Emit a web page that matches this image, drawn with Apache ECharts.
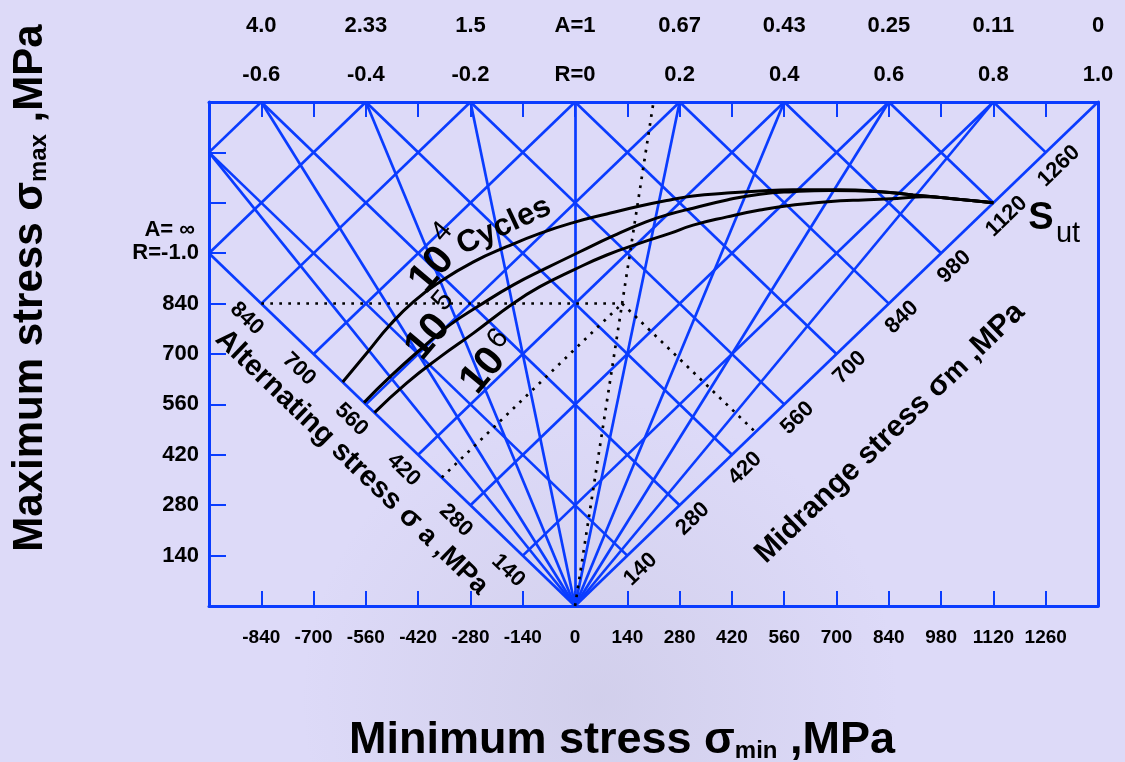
<!DOCTYPE html>
<html>
<head>
<meta charset="utf-8">
<title>Constant life diagram</title>
<script src="https://cdn.jsdelivr.net/npm/echarts@6/dist/echarts.min.js"></script>
<style>
  html, body { margin: 0; padding: 0; background: #dddaf8; }
  #chart { width: 1125px; height: 762px; }
</style>
</head>
<body>
<div id="chart"></div>
<script>
// axis ranges (MPa)
var xMin = -980
var xMax = 1400
var yMin = 0
var yMax = 1400

// frame ticks and labels
var xTickValues = [-840, -700, -560, -420, -280, -140, 0, 140, 280, 420, 560, 700, 840, 980, 1120, 1260]
var yTickValues = [140, 280, 420, 560, 700, 840, 980, 1120, 1260]
var yLabelValues = [140, 280, 420, 560, 700, 840, 980]
// top edge: sigma_min where the R lines reach sigma_max = 1400
var topValues = [-840, -560, -280, 0, 280, 560, 840, 1120, 1400]
var rLabels = ['-0.6', '-0.4', '-0.2', 'R=0', '0.2', '0.4', '0.6', '0.8', '1.0']
var aLabels = ['4.0', '2.33', '1.5', 'A=1', '0.67', '0.43', '0.25', '0.11', '0']

// diagonal scales
var alternatingTicks = [140, 280, 420, 560, 700, 840]
var midrangeTicks = [140, 280, 420, 560, 700, 840, 980, 1120, 1260]
var sigmaALines = [140, 280, 420, 560, 700, 840, 980, 1120]
var sigmaMLines = [140, 280, 420, 560, 700, 840, 980, 1120, 1260]
var radialEnds = [[-980, 980], [-980, 1260], [-840, 1400], [-560, 1400], [-280, 1400], [0, 1400],
  [280, 1400], [560, 1400], [840, 1400], [1120, 1400], [1400, 1400]]

// constant life curves, [sigma_min, sigma_max]
var cycles1e4 = [[-622, 622], [-558, 702], [-495, 781], [-433, 845], [-361, 901], [-272, 956], [-183, 998],
  [-94, 1035], [-5, 1065], [85, 1089], [174, 1111], [254, 1128], [316, 1139], [407, 1147], [495, 1153],
  [584, 1156], [710, 1156], [817, 1151], [905, 1142], [996, 1133], [1120, 1120]]
var cycles1e5 = [[-565, 565], [-495, 637], [-406, 720], [-335, 781], [-254, 836], [-165, 892], [-76, 939],
  [13, 984], [102, 1028], [190, 1067], [254, 1089], [316, 1105], [407, 1128], [495, 1144], [584, 1151],
  [683, 1154], [817, 1151], [905, 1142], [996, 1133], [1120, 1120]]
var cycles1e6 = [[-537, 537], [-451, 619], [-361, 692], [-272, 758], [-165, 841], [-94, 887], [-5, 933],
  [85, 975], [174, 1008], [254, 1035], [316, 1058], [407, 1081], [495, 1100], [584, 1114], [710, 1126],
  [771, 1128], [862, 1132], [932, 1137], [1031, 1129], [1120, 1120]]

// dotted construction lines for the example point
var dottedSegments = [
  [[-840, 840], [126, 840]],
  [[0, 0], [210, 1400]],
  [[-357, 357], [126, 840]],
  [[126, 840], [483, 483]]
]

var BLUE = '#0a3cff'
var FONT = '"Liberation Sans", Arial, Helvetica, sans-serif'

var gridSegments = []
sigmaALines.forEach(function (a) {
  var start = a <= -xMin ? [-a, a] : [xMin, xMin + 2 * a]
  gridSegments.push({ coords: [start, [yMax - 2 * a, yMax]] })
})
sigmaMLines.forEach(function (m) {
  var topMin = 2 * m - yMax
  var end = topMin >= xMin ? [topMin, yMax] : [xMin, 2 * m - xMin]
  gridSegments.push({ coords: [[m, m], end] })
})
radialEnds.forEach(function (p) {
  gridSegments.push({ coords: [[0, 0], p] })
})

var labelStyle = { color: '#000', fontWeight: 'bold', fontFamily: FONT }

var chartDom = document.getElementById('chart')
var myChart = echarts.init(chartDom)
var option = {
  animation: false,
  backgroundColor: '#dddaf8',
  grid: { left: 209, right: 27, top: 102, bottom: 156, outerBoundsMode: 'none' },
  xAxis: [
    {
      type: 'value', position: 'bottom', min: xMin, max: xMax,
      splitLine: { show: false },
      axisLine: { show: true, onZero: false, lineStyle: { color: BLUE, width: 3 } },
      axisTick: { show: true, inside: true, length: 15, customValues: xTickValues, lineStyle: { color: BLUE, width: 2 } },
      axisLabel: Object.assign({
        customValues: xTickValues, margin: 22, fontSize: 19,
        formatter: function (v) { return String(v) }
      }, labelStyle)
    },
    {
      type: 'value', position: 'top', min: xMin, max: xMax,
      splitLine: { show: false },
      axisLine: { show: true, onZero: false, lineStyle: { color: BLUE, width: 3 } },
      axisTick: { show: true, inside: true, length: 15, customValues: xTickValues, lineStyle: { color: BLUE, width: 2 } },
      axisLabel: Object.assign({
        customValues: topValues, margin: 16, fontSize: 22,
        formatter: function (v) { return rLabels[topValues.indexOf(v)] }
      }, labelStyle)
    },
    {
      type: 'value', position: 'top', offset: 49, min: xMin, max: xMax,
      splitLine: { show: false },
      axisLine: { show: false },
      axisTick: { show: false },
      axisLabel: Object.assign({
        customValues: topValues, margin: 16, fontSize: 22,
        formatter: function (v) { return aLabels[topValues.indexOf(v)] }
      }, labelStyle)
    }
  ],
  yAxis: [
    {
      type: 'value', position: 'left', min: yMin, max: yMax,
      splitLine: { show: false },
      axisLine: { show: true, onZero: false, lineStyle: { color: BLUE, width: 3 } },
      axisTick: { show: true, inside: true, length: 17, customValues: yTickValues, lineStyle: { color: BLUE, width: 2 } },
      axisLabel: Object.assign({
        customValues: yLabelValues, margin: 10, fontSize: 22,
        formatter: function (v) { return v === 980 ? 'R=-1.0' : String(v) }
      }, labelStyle)
    },
    {
      type: 'value', position: 'right', min: yMin, max: yMax,
      splitLine: { show: false },
      axisLine: { show: true, onZero: false, lineStyle: { color: BLUE, width: 3 } },
      axisTick: { show: false },
      axisLabel: { show: false }
    }
  ],
  series: [
    {
      type: 'lines', coordinateSystem: 'cartesian2d', xAxisIndex: 0, yAxisIndex: 0,
      silent: true, z: 2,
      lineStyle: { color: BLUE, width: 2.7, opacity: 1, curveness: 0 },
      data: gridSegments
    },
    {
      type: 'lines', coordinateSystem: 'cartesian2d', xAxisIndex: 0, yAxisIndex: 0,
      silent: true, z: 3,
      lineStyle: { color: '#000', width: 2.7, opacity: 1, type: [2.7, 6.3], curveness: 0 },
      data: dottedSegments.map(function (s) { return { coords: s } })
    },
    { name: '10^4', type: 'line', xAxisIndex: 0, yAxisIndex: 0, data: cycles1e4, smooth: true, showSymbol: false, z: 4, lineStyle: { color: '#000', width: 3 } },
    { name: '10^5', type: 'line', xAxisIndex: 0, yAxisIndex: 0, data: cycles1e5, smooth: true, showSymbol: false, z: 4, lineStyle: { color: '#000', width: 3 } },
    { name: '10^6', type: 'line', xAxisIndex: 0, yAxisIndex: 0, data: cycles1e6, smooth: true, showSymbol: false, z: 4, lineStyle: { color: '#000', width: 3 } }
  ]
}
option && myChart.setOption(option)

// annotations placed from the data scale
function px(p) {
  return myChart.convertToPixel({ xAxisIndex: 0, yAxisIndex: 0 }, p)
}
function textEl(x, y, text, font, rot, extra) {
  var style = {
    text: text, font: font, fill: '#000',
    align: 'center', verticalAlign: 'middle', textAlign: 'center', textVerticalAlign: 'middle'
  }
  if (extra) Object.assign(style, extra)
  return { type: 'text', x: x, y: y, rotation: rot || 0, z: 20, silent: true, style: style }
}

var o = px([0, 0])
var pa = px([xMin, -xMin])
var pm = px([xMax, xMax])
function unit(a, b) {
  var dx = b[0] - a[0], dy = b[1] - a[1], l = Math.sqrt(dx * dx + dy * dy)
  return [dx / l, dy / l]
}
var ua = unit(pa, o)   // reading direction of the alternating scale
var um = unit(o, pm)   // reading direction of the midrange scale
var rotA = -Math.atan2(ua[1], ua[0])
var rotM = -Math.atan2(um[1], um[0])
var tickFont = 'bold 22px ' + FONT

var graphics = []
graphics.push({
  type: 'ellipse', z: -10, silent: true,
  shape: { cx: 600, cy: 700, rx: 500, ry: 300 },
  style: {
    fill: {
      type: 'radial', x: 0.5, y: 0.5, r: 0.5,
      colorStops: [{ offset: 0, color: 'rgba(150,150,170,0.16)' }, { offset: 1, color: 'rgba(150,150,170,0)' }]
    }
  }
})
alternatingTicks.forEach(function (v) {
  var p = px([-v, v])
  graphics.push(textEl(p[0] - ua[1] * 21, p[1] + ua[0] * 21, String(v), tickFont, rotA))
})
midrangeTicks.forEach(function (v) {
  var p = px([v, v])
  graphics.push(textEl(p[0] - um[1] * 19, p[1] + um[0] * 19, String(v), tickFont, rotM))
})

var bold = function (s) { return 'bold ' + s + 'px ' + FONT }
var plain = function (s) { return s + 'px ' + FONT }
function rich(size, sub) {
  return {
    b: { font: bold(size), fill: '#000', verticalAlign: 'bottom' },
    s: { font: bold(sub), fill: '#000', verticalAlign: 'bottom' }
  }
}

// y label above R=-1.0
graphics.push(textEl(195, 230, 'A= ∞', bold(22), 0, { align: 'right', textAlign: 'right' }))

// axis titles
graphics.push(textEl(30, 288, '{b|Maximum stress σ}{s|max}{b| ,MPa}', bold(42), Math.PI / 2, { rich: rich(42, 24) }))
graphics.push(textEl(622, 741, '{b|Minimum stress σ}{s|min}{b| ,MPa}', bold(45), 0, { rich: rich(45, 24) }))
graphics.push(textEl(352, 462, '{b|Alternating stress σ}{s| a ,MPa}', bold(29), rotA, { rich: rich(29, 27) }))
graphics.push(textEl(890, 433, '{b|Midrange stress σ}{s|m}{b| ,MPa}', bold(30), rotM, { rich: rich(30, 27) }))

// curve labels
var rot10 = 50 * Math.PI / 180
graphics.push(textEl(432, 270, '10', bold(41), rot10))
graphics.push(textEl(442, 232, '4', plain(29), rot10))
graphics.push(textEl(504, 226, 'Cycles', bold(31), 25 * Math.PI / 180))
graphics.push(textEl(428, 337, '10', bold(41), rot10))
graphics.push(textEl(443, 301, '5', plain(29), rot10))
graphics.push(textEl(483, 371, '10', bold(41), rot10))
graphics.push(textEl(498, 339, '6', plain(29), rot10))
graphics.push(textEl(1041, 219, 'S', bold(38), 0))
graphics.push(textEl(1068, 234, 'ut', plain(29), 0))

myChart.setOption({ graphic: { elements: graphics } })

window.addEventListener('resize', function () {
  myChart.resize()
})
</script>
</body>
</html>
